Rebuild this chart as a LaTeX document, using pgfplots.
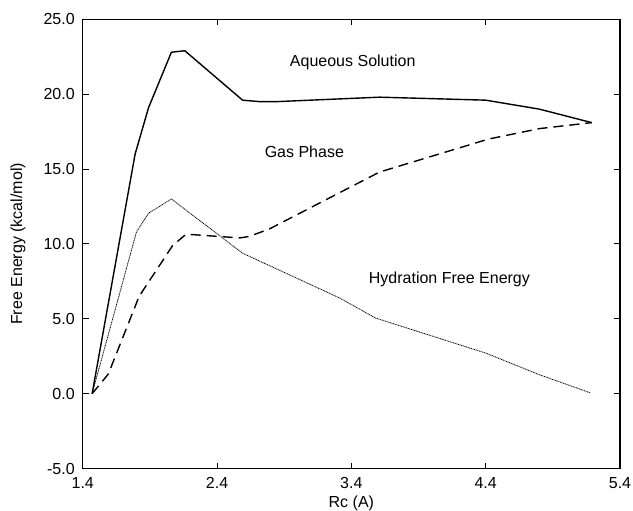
\documentclass[border=0pt]{standalone}
\usepackage{pgfplots}
\pgfplotsset{compat=1.18}
\usepackage{fontspec}
\setmainfont{Liberation Sans}
\newcommand{\lblfont}{\fontsize{16}{19}\selectfont}
\begin{document}
\begin{tikzpicture}
\begin{axis}[
  scale only axis,
  width=537pt, height=449pt,
  xmin=1.4, xmax=5.4, ymin=-5, ymax=25,
  xtick={1.4,2.4,3.4,4.4,5.4},
  ytick={-5,0,5,10,15,20,25},
  tick align=inside,
  major tick length=6pt,
  minor tick num=0,
  axis line style={line width=1.3pt},
  every tick/.style={line width=1pt, black},
  /pgf/number format/assume math mode=true,
  /pgf/number format/fixed,
  /pgf/number format/fixed zerofill,
  /pgf/number format/precision=1,
  ticklabel style={font=\lblfont},
  xticklabel style={yshift=-5pt},
  yticklabel style={xshift=-4.5pt},
  clip=false,
]
% Aqueous Solution (solid)
\addplot[black, line width=1.4pt] coordinates {
 (1.47,0.0) (1.79,16.0) (1.89,19.1) (2.06,22.8) (2.16,22.9) (2.59,19.6) (2.72,19.5) (2.84,19.5) (3.61,19.8) (4.40,19.6) (4.80,19.0) (5.19,18.1)
};
% Gas Phase (dashed)
\addplot[black, line width=1.4pt, dash pattern=on 10pt off 6pt] coordinates {
 (1.47,0.0) (1.59,1.3) (1.82,6.5) (2.07,9.9) (2.17,10.65) (2.57,10.4) (2.64,10.5) (2.79,11.0) (3.61,14.8) (4.42,17.0) (4.80,17.7) (5.19,18.1)
};
% Hydration Free Energy (dotted)
\addplot[black, line width=0.8pt, dash pattern=on 1pt off 0.7pt] coordinates {
 (1.47,0.0) (1.80,10.8) (1.89,12.05) (2.06,13.0) (2.59,9.38) (3.31,6.4) (3.58,5.05) (4.40,2.71) (4.79,1.3) (5.18,0.05)
};
\node[font=\lblfont] at (axis cs:3.41,22.1) {Aqueous Solution};
\node[font=\lblfont] at (axis cs:3.05,16.15) {Gas Phase};
\node[font=\lblfont] at (axis cs:4.13,7.6) {Hydration Free Energy};
\node[font=\lblfont, rotate=90] at ([xshift=-64.7pt]rel axis cs:0,0.5) {Free Energy (kcal/mol)};
\node[font=\lblfont] at ([yshift=-35pt]rel axis cs:0.5,0) {Rc (A)};
\coordinate (LL) at (rel axis cs:0,0);
\coordinate (UR) at (rel axis cs:1,1);
\end{axis}
\pgfresetboundingbox
\path ([shift={(-82.7pt,-42pt)}]LL) rectangle ([shift={(13pt,19.3pt)}]UR);
\end{tikzpicture}
\end{document}
